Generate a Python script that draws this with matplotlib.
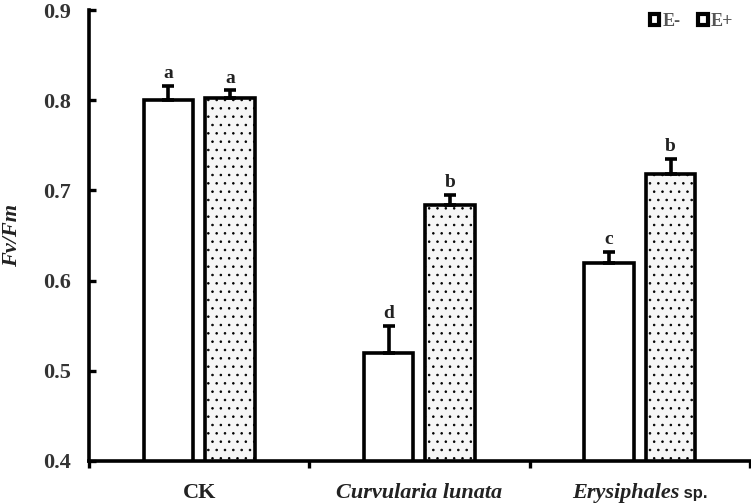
import matplotlib
matplotlib.use("Agg")
import matplotlib.pyplot as plt
import numpy as np
from matplotlib.patches import Patch

categories = ["CK", "Curvularia lunata", "Erysiphales"]
e_minus = [0.800, 0.520, 0.620]
e_plus = [0.802, 0.684, 0.718]
err_minus = [0.016, 0.030, 0.012]
err_plus = [0.009, 0.011, 0.017]
letters_minus = ["a", "d", "c"]
letters_plus = ["a", "b", "b"]
yticks = [0.4, 0.5, 0.6, 0.7, 0.8, 0.9]

SERIF = "Liberation Serif"
plt.rcParams['hatch.linewidth'] = 0.6
plt.rcParams['hatch.color'] = 'black'

fig = plt.figure(figsize=(7.51, 5.03), dpi=100)
ax = fig.add_axes([0.1185, 0.0835, 0.880, 0.8965])

x = np.arange(len(categories))
w = 0.225
off = 0.14
lw = 2.6
ax.bar(x - off, e_minus, w, bottom=0, color='white', edgecolor='black', linewidth=lw, zorder=2)
ax.bar(x + off, e_plus, w, bottom=0, color='#f6f6f6', edgecolor='black', linewidth=lw, hatch='..', zorder=2)
ax.errorbar(x - off, e_minus, yerr=[np.zeros(3), err_minus], fmt='none', ecolor='black',
            elinewidth=2.6, capsize=4.5, capthick=2.6, zorder=3)
ax.errorbar(x + off, e_plus, yerr=[np.zeros(3), err_plus], fmt='none', ecolor='black',
            elinewidth=2.6, capsize=4.5, capthick=2.6, zorder=3)

for xi, v, e, l in zip(x - off, e_minus, err_minus, letters_minus):
    ax.annotate(l, (xi, v + e), xytext=(0, 2.5), textcoords='offset points', ha='center', va='bottom',
                fontsize=14, fontweight='bold', family=SERIF, color='#222222')
for xi, v, e, l in zip(x + off, e_plus, err_plus, letters_plus):
    ax.annotate(l, (xi, v + e), xytext=(0, 2.5), textcoords='offset points', ha='center', va='bottom',
                fontsize=14, fontweight='bold', family=SERIF, color='#222222')

ax.set_ylim(0.4, 0.9)
ax.set_xlim(-0.5, 2.5)
ax.set_yticks(yticks)
ax.set_yticklabels([f"{t:.1f}" for t in yticks], fontsize=16, fontweight='bold', family=SERIF, color='#333333')
ax.tick_params(axis='y', direction='in', length=5, width=2.4, pad=13)
ax.set_xticks([-0.5, 0.5, 1.5, 2.5])
ax.set_xticklabels([])
ax.tick_params(axis='x', direction='out', length=5, width=2.4)

for s in ['top', 'right']:
    ax.spines[s].set_visible(False)
for s in ['left', 'bottom']:
    ax.spines[s].set_linewidth(2.6)

# category labels
base_y = -0.081
tr = ax.get_xaxis_transform()
ax.text(0, base_y, "CK", transform=tr, ha='center', va='baseline', fontsize=16, fontweight='bold', family=SERIF, color='#222222')
ax.text(1, base_y, "Curvularia lunata", transform=tr, ha='center', va='baseline', fontsize=16, fontweight='bold',
        style='italic', family=SERIF, color='#222222')
fig.canvas.draw()
r = fig.canvas.get_renderer()
t1 = ax.text(0, 0, "Erysiphales", transform=tr, ha='left', va='baseline', fontsize=16, fontweight='bold',
             style='italic', family=SERIF, color='#222222')
t2 = ax.text(0, 0, " sp.", transform=tr, ha='left', va='baseline', fontsize=12, fontweight='bold',
             family='Liberation Sans', color='#222222')
w1 = t1.get_window_extent(r).width
w2 = t2.get_window_extent(r).width
cx = ax.transData.transform((2, 0.4))[0]
left = cx - (w1 + w2) / 2
inv = ax.transAxes.inverted()
axx1 = inv.transform((left, 0))[0]
axx2 = inv.transform((left + w1, 0))[0]
t1.set_transform(ax.transAxes); t1.set_position((axx1, base_y))
t2.set_transform(ax.transAxes); t2.set_position((axx2, base_y))

ax.set_ylabel("Fv/Fm", fontsize=16, fontweight='bold', style='italic', family=SERIF, labelpad=15, color='#222222')

handles = [Patch(facecolor='white', edgecolor='black', linewidth=3.0),
           Patch(facecolor='white', edgecolor='black', linewidth=3.0, hatch='.')]
leg = ax.legend(handles, ["E-", "E+"], loc='upper right', bbox_to_anchor=(1.0, 1.03), ncol=2, frameon=False,
                prop={'family': SERIF, 'size': 13, 'weight': 'bold'}, handlelength=0.5, handleheight=0.5,
                handletextpad=0.2, columnspacing=1.0)
for t in leg.get_texts():
    t.set_color('#555555')

fig.savefig("out.png", dpi=100)
